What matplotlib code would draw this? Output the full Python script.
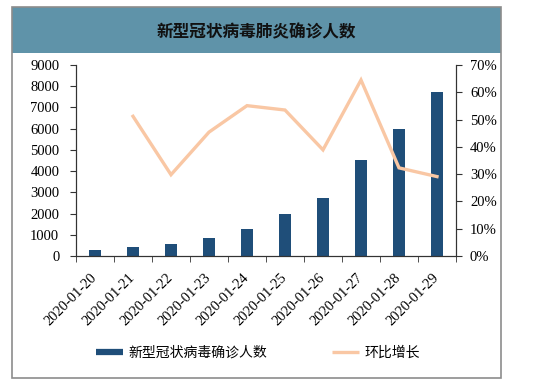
import matplotlib.pyplot as plt
import numpy as np
from matplotlib.patches import Rectangle
from matplotlib.lines import Line2D

plt.rcParams['font.family'] = ['Liberation Serif', 'Noto Sans CJK SC']

# data
dates = ['2020-01-20', '2020-01-21', '2020-01-22', '2020-01-23', '2020-01-24',
         '2020-01-25', '2020-01-26', '2020-01-27', '2020-01-28', '2020-01-29']
cases = [291, 440, 571, 830, 1287, 1975, 2744, 4515, 5974, 7711]
growth = [np.nan, 0.512, 0.298, 0.454, 0.551, 0.535, 0.389, 0.645, 0.323, 0.291]

title = '新型冠状病毒肺炎确诊人数'
bar_name = '新型冠状病毒确诊人数'
line_name = '环比增长'

W, H = 538, 385
fig = plt.figure(figsize=(W / 100, H / 100), dpi=100)
fig.patch.set_facecolor('white')

# outer frame and title band
fig.patches.append(Rectangle((12 / W, 1 - 53 / H), 489 / W, 46 / H,
                             transform=fig.transFigure, facecolor='#5f93a9',
                             edgecolor='none', zorder=0))
fig.patches.append(Rectangle((12 / W, 1 - 378 / H), 489 / W, 371 / H,
                             transform=fig.transFigure, facecolor='none',
                             edgecolor='#8c8c8c', lw=1.2, zorder=1))
fig.text(256 / W, 1 - 32 / H, title, ha='center', va='center', fontsize=12,
         fontweight='bold', family=['Noto Sans CJK SC'], color='#111111')

ax = fig.add_axes([76 / W, 1 - 256 / H, 380 / W, 191 / H])
x = np.arange(len(dates))
bars = ax.bar(x, cases, width=0.31, color='#1f4e79', zorder=2)
ax.set_xlim(-0.5, len(dates) - 0.5)
ax.set_ylim(0, 9000)
ax.set_yticks(np.arange(0, 9001, 1000))
ax.set_xticks(x)
ax.set_xticklabels(dates, rotation=45, ha='right', va='center',
                   rotation_mode='anchor', fontsize=10.5)
ax.set_xticks(np.arange(-0.5, len(dates)), minor=True)
ax.tick_params(axis='x', which='major', length=0, pad=14)
ax.tick_params(axis='x', which='minor', length=4, direction='out', color='#333333')
ax.tick_params(axis='y', length=4, direction='out', pad=8, labelsize=10.5, color='#333333')
ax.spines['top'].set_visible(False)
for s in ['left', 'right', 'bottom']:
    ax.spines[s].set_color('#333333')

ax2 = ax.twinx()
ax2.plot(x, growth, color='#f9c7a4', lw=2.4, solid_joinstyle='miter', zorder=3)
ax2.set_ylim(0, 0.7)
ax2.set_yticks(np.arange(0, 0.71, 0.1))
ax2.set_yticklabels(['%d%%' % round(v * 100) for v in np.arange(0, 0.71, 0.1)])
ax2.tick_params(axis='y', length=4, direction='out', pad=6, labelsize=10.5, color='#333333')
ax2.spines['top'].set_visible(False)
for s in ['left', 'right', 'bottom']:
    ax2.spines[s].set_color('#333333')

handles = [Line2D([], [], color='#1f4e79', lw=4.5, solid_capstyle='butt'),
           Line2D([], [], color='#f9c7a4', lw=2.4, solid_capstyle='butt')]
fig.legend(handles, [bar_name, line_name], loc='center', ncol=2,
           bbox_to_anchor=(258 / W, 1 - 353 / H), frameon=False,
           prop={'family': ['Noto Sans CJK SC'], 'size': 10},
           handlelength=2.0, handletextpad=0.4, columnspacing=4.6)

fig.savefig('out.png', dpi=100)
